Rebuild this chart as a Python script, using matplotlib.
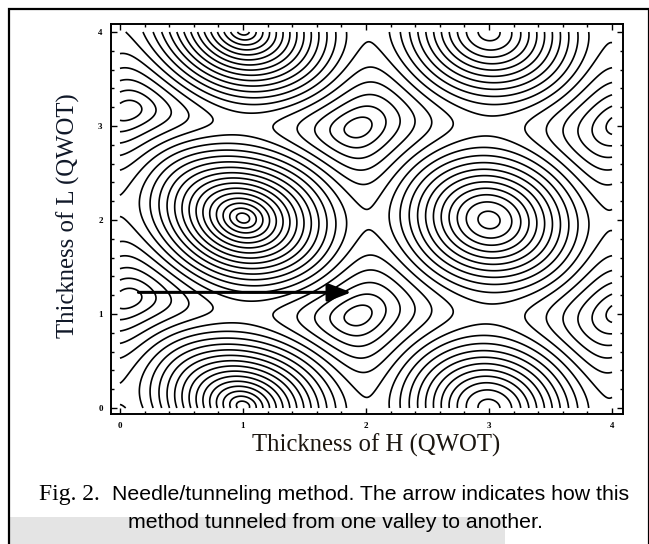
import numpy as np
import matplotlib.pyplot as plt
from matplotlib.patches import Rectangle
from matplotlib.ticker import MultipleLocator

# merit surface: periodic terms cos H, cos L, cos H*cos L, sin H*sin L
coef_h = -1.0
coef_l = 1.0
coef_l_tilt = 0.15      # hills near H=1 higher than hills near H=3
coef_hl = -0.6
coef_sin = 0.12
valley_shift = 0.15     # valleys at H=0 sit higher (L~1.2, 3.1)
n_levels = 20

h_ticks = [0, 1, 2, 3, 4]
l_ticks = [0, 1, 2, 3, 4]
arrow_h = [0.15, 1.88]
arrow_l = [1.23, 1.23]

xlabel = "Thickness of H (QWOT)"
ylabel = "Thickness of L (QWOT)"
cap_fig = "Fig. 2."
cap_line1 = "Needle/tunneling method. The arrow indicates how this"
cap_line2 = "method tunneled from one valley to another."

h = np.linspace(0, 4, 401)
l = np.linspace(0, 4, 401)
hh, ll = np.meshgrid(h, l)
ls = ll - valley_shift*np.exp(-hh**2/0.5)
z = (coef_h*np.cos(np.pi*hh)
     + (coef_l + coef_l_tilt*np.sin(np.pi*hh/2))*np.cos(np.pi*ls)
     + coef_hl*np.cos(np.pi*hh)*np.cos(np.pi*ls)
     + coef_sin*np.sin(np.pi*hh)*np.sin(np.pi*ls))
u = (z - z.min())/(z.max() - z.min())
t = 2/np.pi*np.arcsin(np.sqrt(u))
levels = np.linspace(0, 1, n_levels + 2)[1:-1]

W, H = 649, 544
fig = plt.figure(figsize=(W/100, H/100), dpi=100)

# outer frame and grey strip at the bottom
fig.add_artist(Rectangle((10/W, 0), 495/W, 27/H, transform=fig.transFigure,
                         fc='#e4e4e4', ec='none', zorder=0))
fig.add_artist(Rectangle((9/W, -0.1), 640/W, 1 - 9/H + 0.1, transform=fig.transFigure,
                         fill=False, ec='k', lw=1.6))

ax = fig.add_axes([111/W, 1 - 414/H, 512/W, 390/H])
ax.contour(hh, ll, t, levels=levels, colors='k', linewidths=1.2, linestyles='solid')

ax.annotate('', xy=(arrow_h[1], arrow_l[1]), xytext=(arrow_h[0], arrow_l[0]),
            arrowprops=dict(arrowstyle='-|>,head_length=0.9,head_width=0.35',
                            mutation_scale=16, lw=2.2, color='k',
                            shrinkA=0, shrinkB=0))

ax.set_xlim(-0.073, 4.089)
ax.set_ylim(-0.064, 4.085)
ax.set_xticks(h_ticks)
ax.set_yticks(l_ticks)
ax.xaxis.set_minor_locator(MultipleLocator(0.2))
ax.yaxis.set_minor_locator(MultipleLocator(0.2))
ax.tick_params(which='both', direction='in', top=True, right=True, width=1)
ax.tick_params(which='major', length=4, pad=6)
ax.tick_params(which='minor', length=2.5)
for lab in ax.get_xticklabels() + ax.get_yticklabels():
    lab.set_family('Liberation Serif')
    lab.set_fontweight('bold')
    lab.set_fontsize(6.5)
for sp in ax.spines.values():
    sp.set_linewidth(1.4)

fig.text(376/W, 1 - 445/H, xlabel, family='Liberation Serif', fontsize=17.8,
         color='#1c1610', ha='center', va='center')
fig.text(68/W, 1 - 216/H, ylabel, family='Liberation Serif', fontsize=17.8,
         color='#101828', ha='center', va='center', rotation=90)

fig.text(39/W, 1 - 500/H, cap_fig, family='Liberation Serif', fontsize=17,
         ha='left', va='baseline')
fig.text(112/W, 1 - 500/H, cap_line1, family='Liberation Sans', fontsize=15.3,
         ha='left', va='baseline')
fig.text(335/W, 1 - 528/H, cap_line2, family='Liberation Sans', fontsize=15.3,
         ha='center', va='baseline')

fig.savefig('out.png', dpi=100)
